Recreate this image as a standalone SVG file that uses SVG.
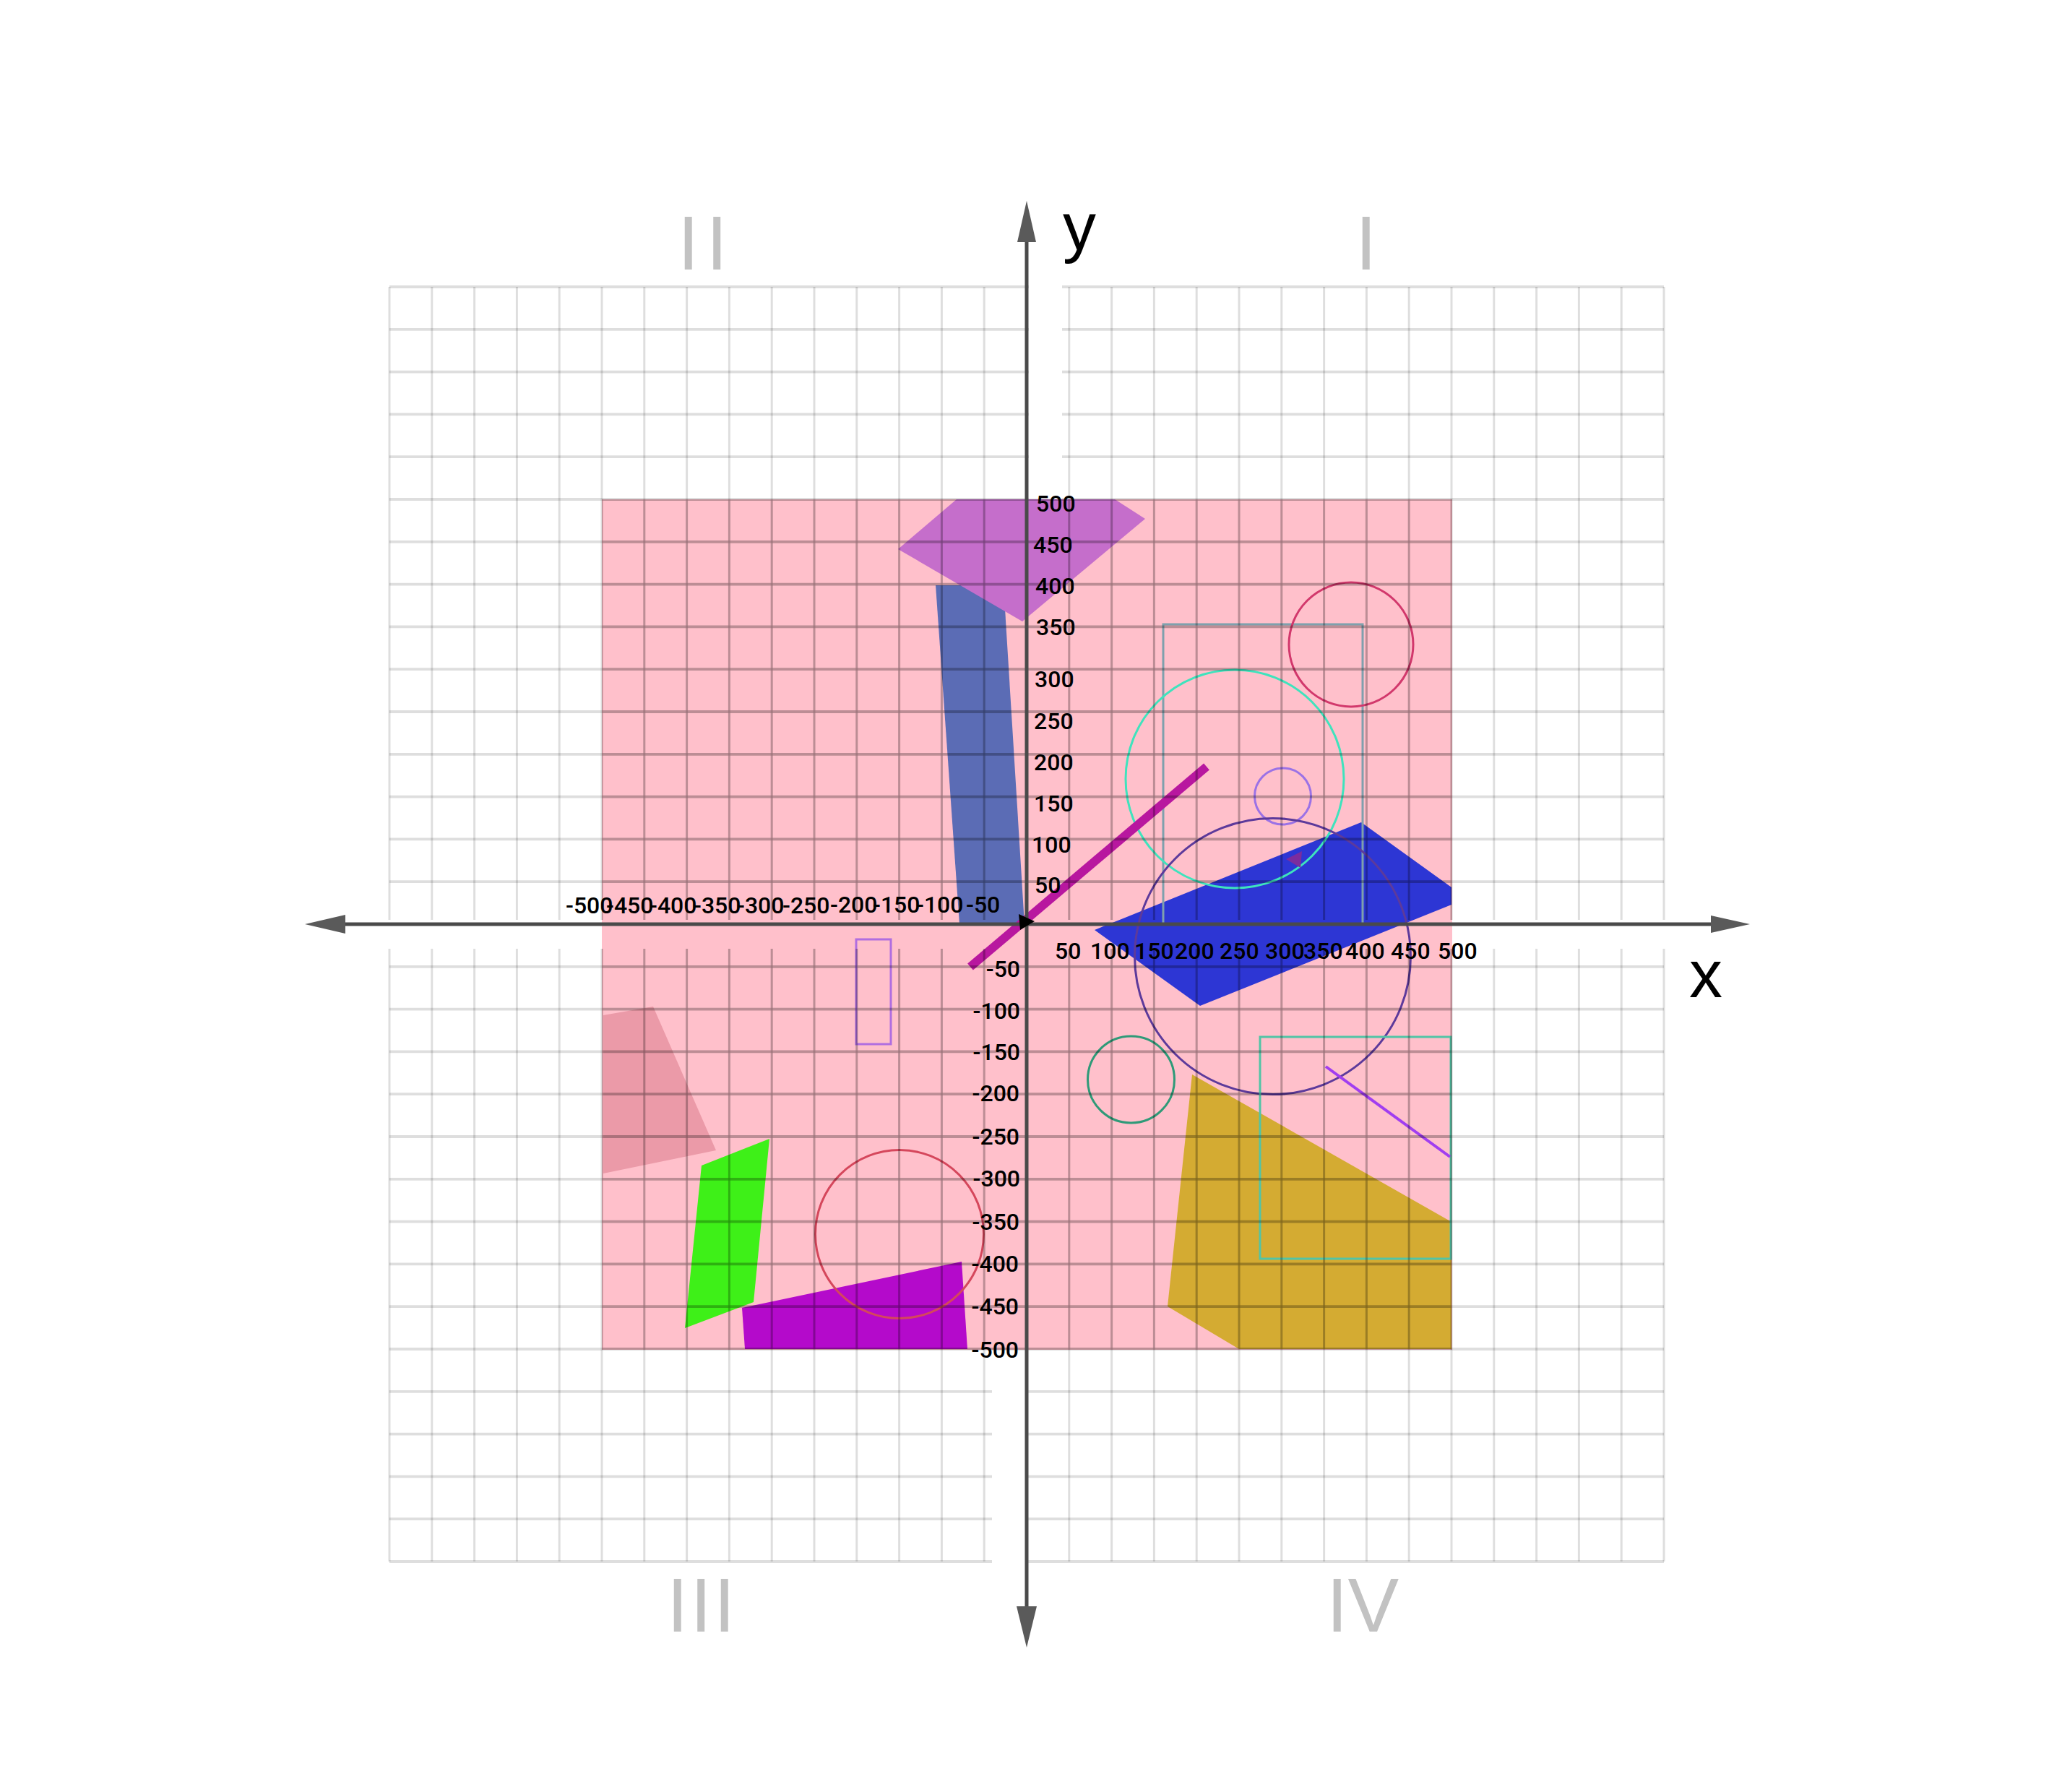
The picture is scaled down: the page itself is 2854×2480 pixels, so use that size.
<svg xmlns="http://www.w3.org/2000/svg" width="2854" height="2480" viewBox="0 0 2854 2480">
<style>
.grid{fill:none;stroke:#000}
.gv{stroke-width:3}
.gh{stroke-width:3.8}
.outline{fill:none;stroke-width:3}
.axis{stroke:#4a4a4a;stroke-width:5;fill:none}
.ahead{fill:#5a5a5a}
.quad{font-family:"Liberation Sans",Arial,sans-serif;font-size:106px;fill:#c2c2c2}
.lab{font-family:Roboto,"Liberation Sans",sans-serif;font-size:32px;font-weight:500;fill:#000}
.labx{font-family:Roboto,"Liberation Sans",sans-serif;font-size:32px;font-weight:500;fill:#000}
.axname{font-family:"Liberation Sans",Arial,sans-serif;font-size:92px;fill:#000}
</style>
<defs>
<clipPath id="pinkclip"><rect x="833" y="691" width="1177" height="1177"/></clipPath>
<g id="gridlines">
<path class="grid gv" d="M539 397V1273M539 1313V2161M597.8 397V1273M597.8 1313V2161M656.6 397V1273M656.6 1313V2161M715.4 397V1273M715.4 1313V2161M774.2 397V1273M774.2 1313V2161M833 397V1273M833 1313V2161M891.8 397V1273M891.8 1313V2161M950.6 397V1273M950.6 1313V2161M1009.4 397V1273M1009.4 1313V2161M1068.2 397V1273M1068.2 1313V2161M1127 397V1273M1127 1313V2161M1185.8 397V1273M1185.8 1313V2161M1244.6 397V1273M1244.6 1313V2161M1303.4 397V1273M1303.4 1313V2161M1362.2 397V1273M1362.2 1313V2161M1479.8 397V1273M1479.8 1313V2161M1538.6 397V1273M1538.6 1313V2161M1597.4 397V1273M1597.4 1313V2161M1656.2 397V1273M1656.2 1313V2161M1715 397V1273M1715 1313V2161M1773.8 397V1273M1773.8 1313V2161M1832.6 397V1273M1832.6 1313V2161M1891.4 397V1273M1891.4 1313V2161M1950.2 397V1273M1950.2 1313V2161M2009 397V1273M2009 1313V2161M2067.8 397V1273M2067.8 1313V2161M2126.6 397V1273M2126.6 1313V2161M2185.4 397V1273M2185.4 1313V2161M2244.2 397V1273M2244.2 1313V2161M2303 397V1273M2303 1313V2161"/>
<path class="grid gh" d="M539 397H2303M539 455.8H2303M539 514.6H2303M539 573.4H2303M539 632.2H2303M539 691H2303M539 749.8H2303M539 808.6H2303M539 867.4H2303M539 926.2H2303M539 985H2303M539 1043.8H2303M539 1102.6H2303M539 1161.4H2303M539 1220.2H2303M539 1337.8H2303M539 1396.6H2303M539 1455.4H2303M539 1514.2H2303M539 1573H2303M539 1631.8H2303M539 1690.6H2303M539 1749.4H2303M539 1808.2H2303M539 1867H2303M539 1925.8H2303M539 1984.6H2303M539 2043.4H2303M539 2102.2H2303M539 2161H2303"/>
</g>
</defs>
<rect x="0" y="0" width="2854" height="2480" fill="#fff"/>
<rect id="pink-square" x="833" y="691" width="1177" height="1177" fill="#ffc0cb"/>

<g id="filled-shapes">
<polygon id="bluegray-quad" points="1295,810 1389,810 1418,1279 1328,1279" fill="#5b6cb5"/>
<polygon id="purple-pentagon" points="1324,691 1543,691 1585,718 1415,860 1243,760" fill="#c56ecb"/>
<polygon id="rose-quad" points="835,1405 904,1393 991,1592 835,1624" fill="#eb9aa8"/>
<polygon id="green-quad" points="971,1613 1065,1576 1043,1802 948,1838" fill="#3ef018"/>
<polygon id="magenta-quad" points="1027,1810 1331,1746 1339,1867 1031,1867" fill="#b40acb"/>
<polygon id="gold-poly" points="1650,1487 2009,1691 2009,1867 1715,1867 1616,1808" fill="#d4ab32"/>
<polygon id="blue-poly" points="1884,1138 2009,1228 2009,1252 1661,1392 1515,1287" fill="#2d36d4"/>
</g>

<g id="outline-shapes">
<rect id="graybox" class="outline" x="1610" y="864" width="276" height="415" stroke="#7fa0ad"/>
<circle id="rose-circle" class="outline" cx="1870" cy="892" r="86" stroke="#d2386c"/>
<circle id="aqua-circle" class="outline" cx="1709" cy="1078" r="151" stroke="#3fe3bd" stroke-width="3.5"/>
<circle id="lavender-circle" class="outline" cx="1775.5" cy="1102" r="39" stroke="#9b72e6"/>
<circle id="purple-circle" class="outline" cx="1761.5" cy="1323.5" r="191" stroke="#5d3a9b"/>
<rect id="teal-square" class="outline" x="1744" y="1435" width="264" height="307" stroke="#52c4a6"/>
<circle id="seagreen-circle" class="outline" cx="1565.5" cy="1494" r="60" stroke="#2f9a78"/>
<rect id="lavender-rect" class="outline" x="1185" y="1300" width="48" height="145" stroke="#b06ee0"/>
<circle id="red-circle" class="outline" cx="1245" cy="1708" r="116.5" stroke="#d5475c"/>
<polygon id="small-arrow" points="1780,1189 1802,1178 1800,1201" fill="#7b2c9e"/>
</g>

<g id="lines">
<line id="magenta-line" x1="1343" y1="1338" x2="1670" y2="1061" stroke="#b8179f" stroke-width="12"/>
<line id="purple-line" x1="1835" y1="1476" x2="2007" y2="1601" stroke="#a13ef0" stroke-width="4"/>
</g>

<g id="grid">
<use href="#gridlines" style="stroke-opacity:0.13"/>
<g clip-path="url(#pinkclip)" opacity="0.15"><use href="#gridlines"/></g>
<rect x="1424" y="390" width="46" height="300" fill="#fff"/>
<rect x="1373" y="1869" width="46" height="297" fill="#fff"/>
</g>

<g id="axes">
<line class="axis" x1="476" y1="1279" x2="2370" y2="1279"/>
<line class="axis" x1="1421" y1="333" x2="1421" y2="2225"/>
<polygon class="ahead" points="422,1279 478,1266 478,1292"/>
<polygon class="ahead" points="2422,1279 2368,1267 2368,1291"/>
<polygon class="ahead" points="1421,278 1408,335 1434,335"/>
<polygon class="ahead" points="1421,2280 1407,2223 1435,2223"/>
<polygon id="origin-arrow" points="1410,1265 1432,1275 1412,1287" fill="#000"/>
</g>

<g id="axis-names">
<text class="axname" x="1471" y="346">y</text>
<text class="axname" x="2338" y="1380">x</text>
</g>

<g id="quadrants">
<text class="quad" x="938" y="373" letter-spacing="10">II</text>
<text class="quad" x="1876" y="373">I</text>
<text class="quad" x="923" y="2258" letter-spacing="3">III</text>
<text class="quad" x="1836" y="2258">IV</text>
</g>

<g id="y-labels">
<text class="lab" x="1434" y="708">500</text>
<text class="lab" x="1430" y="765">450</text>
<text class="lab" x="1433" y="822">400</text>
<text class="lab" x="1434" y="879">350</text>
<text class="lab" x="1432" y="951">300</text>
<text class="lab" x="1431" y="1009">250</text>
<text class="lab" x="1431" y="1066">200</text>
<text class="lab" x="1431" y="1123">150</text>
<text class="lab" x="1428" y="1180">100</text>
<text class="lab" x="1432" y="1236">50</text>
<text class="lab" x="1412" y="1352" text-anchor="end">-50</text>
<text class="lab" x="1412" y="1410" text-anchor="end">-100</text>
<text class="lab" x="1412" y="1467" text-anchor="end">-150</text>
<text class="lab" x="1411" y="1524" text-anchor="end">-200</text>
<text class="lab" x="1411" y="1584" text-anchor="end">-250</text>
<text class="lab" x="1412" y="1642" text-anchor="end">-300</text>
<text class="lab" x="1411" y="1702" text-anchor="end">-350</text>
<text class="lab" x="1410" y="1760" text-anchor="end">-400</text>
<text class="lab" x="1410" y="1819" text-anchor="end">-450</text>
<text class="lab" x="1410" y="1879" text-anchor="end">-500</text>
</g>

<g id="x-labels">
<text class="labx" x="783" y="1264">-500</text>
<text class="labx" x="839" y="1264">-450</text>
<text class="labx" x="899" y="1264">-400</text>
<text class="labx" x="960" y="1264">-350</text>
<text class="labx" x="1020" y="1264">-300</text>
<text class="labx" x="1083" y="1264">-250</text>
<text class="labx" x="1149" y="1263">-200</text>
<text class="labx" x="1208" y="1263">-150</text>
<text class="labx" x="1268" y="1263">-100</text>
<text class="labx" x="1337" y="1263">-50</text>
<text class="labx" x="1460" y="1327">50</text>
<text class="labx" x="1509" y="1327">100</text>
<text class="labx" x="1570" y="1327">150</text>
<text class="labx" x="1626" y="1327">200</text>
<text class="labx" x="1688" y="1327">250</text>
<text class="labx" x="1751" y="1327">300</text>
<text class="labx" x="1804" y="1327">350</text>
<text class="labx" x="1862" y="1327">400</text>
<text class="labx" x="1925" y="1327">450</text>
<text class="labx" x="1990" y="1327">500</text>
</g>
</svg>
